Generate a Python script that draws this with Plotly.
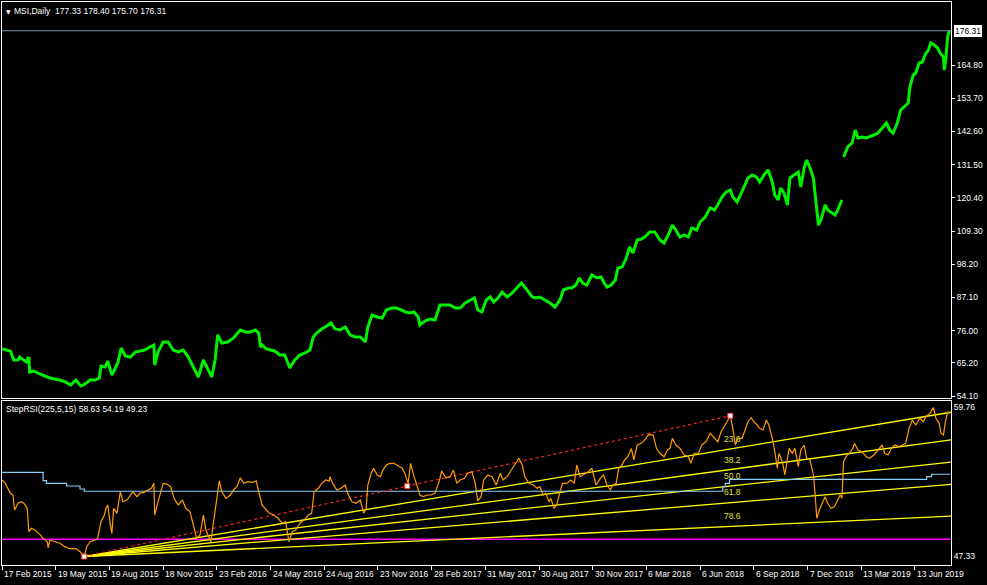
import plotly.graph_objects as go

# ---------------- data ----------------
tick_bars = [0, 64, 128, 192, 256, 320, 384, 448, 512, 576, 640, 704, 768, 832, 896, 960, 1024, 1088]
tick_labels = ["17 Feb 2015", "19 May 2015", "19 Aug 2015", "18 Nov 2015", "23 Feb 2016", "24 May 2016",
               "24 Aug 2016", "23 Nov 2016", "28 Feb 2017", "31 May 2017", "30 Aug 2017", "30 Nov 2017",
               "6 Mar 2018", "6 Jun 2018", "6 Sep 2018", "7 Dec 2018", "13 Mar 2019", "13 Jun 2019"]

price_ticks = [54.10, 65.20, 76.00, 87.10, 98.20, 109.30, 120.40, 131.50, 142.60, 153.70, 164.80]
last_price = 176.31
header_main = "MSI,Daily  177.33 178.40 175.70 176.31"
header_rsi = "StepRSI(225,5,15) 58.63 54.19 49.23"
rsi_ticks = [59.76, 47.33]

price_bar = [0, 10, 14, 19, 21, 29, 32, 33, 38, 45, 54, 57, 63, 69, 76, 82, 88, 94, 99, 105, 111, 116, 118, 123,
             126, 131, 138, 142, 147, 153, 159, 164, 170, 176, 181, 182, 186, 192, 198, 204, 210, 216, 222, 228,
             234, 240, 246, 250, 254, 257, 262, 269, 276, 284, 290, 296, 302, 306, 308, 310, 315, 319, 325, 331,
             337, 343, 349, 355, 361, 367, 371, 375, 381, 387, 392, 397, 403, 409, 415, 421, 427, 433, 436, 441,
             447, 453, 458, 464, 470, 476, 481, 486, 491, 496, 498, 504, 510, 516, 522, 528, 534, 540, 546, 552,
             558, 563, 567, 572, 577, 582, 586, 591, 596, 602, 608, 614, 619, 623, 627, 632, 636, 641, 647, 653,
             659, 665, 669, 675, 679, 684, 688, 692, 697, 703, 709, 714, 717, 721, 726, 731, 734, 739, 744, 748,
             752, 757, 762, 766, 772, 778, 784, 789, 794, 799, 803, 808, 813, 818, 822, 828, 832, 838, 844, 849,
             853, 858, 863, 868, 871, 876, 880, 884, 889, 894, 899, 903, 908, 913, 918, 921, 925, 928, 932, 936,
             939, 944, 949, 952, 956, 959, 963, 967, 970, 973, 976, 981, 984, 989, 993, 996, 1001, 1003, 1008,
             1013, 1017, 1020, 1025, 1030, 1034, 1039, 1044, 1049, 1054, 1058, 1062, 1067, 1071, 1075, 1080,
             1082, 1086, 1089, 1093, 1097, 1100, 1104, 1107, 1111, 1115, 1118, 1122, 1123, 1125, 1127, 1129]
price_val = [69.83, 69.16, 66.15, 66.15, 67.15, 65.48, 67.15, 62.13, 62.47, 61.46, 60.46, 60.12, 59.79, 59.45,
             58.78, 57.78, 59.45, 57.45, 58.12, 59.45, 59.45, 60.12, 64.14, 63.80, 65.81, 61.13, 65.14, 70.16,
             67.48, 67.15, 68.82, 69.16, 69.49, 70.50, 71.16, 64.47, 68.82, 72.17, 72.17, 69.49, 68.82, 69.49,
             67.15, 63.80, 60.46, 66.15, 62.80, 60.46, 66.15, 74.51, 71.83, 72.17, 73.51, 76.18, 75.51, 75.51,
             76.18, 75.18, 70.50, 71.16, 69.83, 69.49, 69.16, 67.82, 67.82, 63.47, 66.15, 67.82, 68.49, 69.49,
             73.84, 75.18, 76.52, 77.52, 78.53, 76.52, 76.18, 77.19, 74.51, 73.84, 73.84, 72.17, 77.19, 81.20,
             80.53, 80.20, 82.88, 83.54, 83.54, 82.88, 82.21, 81.87, 82.21, 80.53, 77.86, 79.20, 79.86, 79.53,
             84.55, 84.55, 84.55, 83.54, 83.54, 85.22, 86.22, 86.89, 82.88, 82.21, 86.22, 87.23, 85.55, 86.89,
             88.90, 87.23, 88.56, 90.57, 91.91, 90.57, 88.90, 87.23, 86.89, 87.23, 86.22, 85.22, 83.88, 86.22,
             89.57, 90.24, 90.24, 91.24, 93.58, 91.91, 91.24, 94.59, 93.58, 93.92, 92.24, 90.57, 91.24, 92.91,
             96.93, 97.26, 100.27, 103.96, 101.95, 106.30, 106.63, 107.30, 108.97, 108.97, 106.30, 105.29,
             107.97, 111.32, 109.64, 107.30, 107.97, 107.30, 110.31, 109.64, 112.32, 113.99, 117.00, 116.34,
             118.01, 120.69, 122.36, 123.03, 120.69, 119.01, 121.35, 124.03, 127.04, 128.05, 127.38, 125.70,
             128.05, 129.72, 125.70, 121.35, 119.68, 123.70, 122.02, 118.01, 127.04, 128.05, 129.05, 124.03,
             130.39, 133.07, 130.39, 127.04, 119.68, 111.32, 112.99, 118.01, 116.34, 115.33, 114.66, 116.34,
             119.68, 134.07, 137.42, 138.75, 143.10, 140.43, 140.76, 140.43, 140.76, 141.43, 142.10, 143.77,
             145.45, 143.10, 142.10, 145.45, 149.80, 150.80, 152.14, 157.49, 161.51, 162.18, 165.52, 165.86,
             168.20, 169.87, 172.21, 171.54, 170.54, 168.87, 167.53, 163.18, 167.53, 174.22, 176.31]
price_gap_after = [1001]

rsi_bar = [0, 4, 10, 13, 15, 19, 23, 26, 30, 32, 35, 39, 44, 49, 54, 55, 57, 63, 69, 75, 81, 86, 89, 93, 98, 101,
           105, 111, 114, 118, 122, 124, 126, 130, 131, 133, 137, 141, 144, 149, 153, 156, 161, 164, 169, 174,
           178, 181, 182, 185, 188, 192, 197, 201, 205, 210, 215, 219, 224, 228, 232, 236, 240, 243, 247, 249,
           251, 255, 259, 262, 267, 272, 276, 280, 284, 288, 293, 298, 303, 306, 310, 315, 319, 324, 329, 334,
           338, 342, 346, 350, 355, 360, 365, 369, 372, 377, 381, 386, 390, 391, 394, 399, 404, 409, 412, 417,
           422, 427, 431, 434, 436, 440, 443, 447, 451, 454, 458, 462, 467, 472, 477, 480, 484, 487, 491, 495,
           498, 502, 507, 511, 516, 521, 524, 529, 534, 538, 542, 546, 551, 555, 560, 564, 567, 571, 574, 579,
           584, 589, 594, 597, 602, 607, 611, 616, 620, 623, 628, 633, 638, 641, 645, 648, 652, 654, 658, 661,
           665, 668, 673, 678, 682, 685, 689, 693, 698, 703, 708, 713, 717, 721, 725, 728, 732, 735, 739, 742,
           746, 750, 753, 757, 762, 766, 771, 776, 780, 784, 789, 793, 796, 799, 803, 808, 813, 818, 821, 825,
           830, 834, 839, 844, 849, 853, 857, 861, 864, 868, 871, 874, 877, 882, 886, 889, 893, 896, 900, 903,
           907, 911, 914, 918, 921, 924, 926, 930, 933, 936, 938, 942, 945, 949, 952, 956, 959, 963, 967, 969,
           971, 974, 977, 981, 984, 988, 992, 995, 999, 1001, 1003, 1007, 1010, 1014, 1016, 1020, 1025, 1030,
           1034, 1039, 1044, 1049, 1052, 1056, 1060, 1064, 1069, 1074, 1077, 1081, 1085, 1089, 1094, 1098,
           1101, 1106, 1110, 1113, 1117, 1119, 1122, 1124, 1127, 1129]
rsi_val = [53.71, 53.43, 52.60, 52.46, 51.21, 51.77, 51.90, 51.77, 51.35, 49.40, 49.68, 49.54, 49.26, 48.85,
           48.56, 48.05, 48.71, 48.56, 48.43, 48.15, 47.96, 48.01, 47.96, 47.73, 47.33, 48.15, 48.56, 48.71,
           48.85, 50.23, 50.79, 51.35, 51.63, 49.54, 49.26, 51.35, 50.93, 52.73, 51.90, 52.04, 52.46, 52.73,
           52.32, 52.60, 52.68, 52.88, 53.02, 53.43, 50.79, 51.63, 52.46, 53.43, 53.35, 53.15, 52.18, 51.63,
           52.04, 51.35, 51.07, 49.82, 48.85, 49.12, 50.79, 49.54, 48.98, 48.56, 49.68, 51.63, 53.63, 52.73,
           52.18, 52.46, 52.88, 53.15, 53.90, 53.43, 53.57, 53.52, 53.63, 52.73, 51.63, 51.21, 50.93, 50.79,
           50.52, 50.10, 50.23, 48.56, 49.40, 49.54, 50.10, 50.37, 50.79, 50.93, 52.73, 53.02, 53.43, 53.71,
           53.63, 53.99, 53.43, 52.88, 53.02, 53.29, 52.60, 51.90, 51.77, 52.04, 50.93, 51.35, 53.29, 54.27,
           54.69, 54.13, 53.99, 54.54, 54.96, 55.10, 55.10, 54.90, 54.69, 54.27, 53.43, 55.10, 53.99, 53.15,
           52.46, 52.32, 52.46, 52.46, 52.60, 53.57, 54.46, 53.90, 53.99, 54.54, 53.43, 53.71, 53.85, 54.27,
           54.40, 53.43, 51.96, 52.32, 53.71, 54.13, 53.99, 53.29, 54.27, 53.71, 53.99, 54.54, 54.96, 55.52,
           54.96, 53.99, 53.43, 53.29, 53.02, 53.15, 52.46, 52.60, 51.90, 52.18, 51.35, 51.63, 52.73, 53.43,
           53.43, 53.71, 53.43, 54.96, 53.99, 54.13, 54.35, 54.69, 53.29, 53.85, 54.13, 53.29, 52.88, 53.29,
           53.43, 54.69, 54.96, 55.38, 55.65, 56.35, 55.38, 56.63, 56.77, 57.05, 57.52, 57.46, 56.35, 55.94,
           55.65, 56.21, 56.35, 57.19, 56.63, 56.35, 55.80, 55.65, 55.10, 55.94, 55.94, 56.63, 56.90, 57.61,
           57.19, 56.90, 57.74, 58.16, 58.57, 59.07, 58.02, 56.63, 57.19, 57.19, 58.02, 58.57, 58.91, 58.57,
           58.30, 58.02, 57.88, 58.71, 58.30, 57.19, 56.07, 54.69, 55.94, 55.24, 54.13, 55.52, 56.35, 55.94,
           56.35, 54.82, 56.21, 56.63, 55.52, 55.38, 54.13, 52.60, 50.52, 51.21, 51.63, 52.32, 51.77, 51.35,
           51.48, 51.90, 52.46, 52.18, 55.24, 55.80, 55.94, 56.35, 56.77, 56.21, 56.07, 55.65, 55.52, 55.80,
           56.21, 56.63, 55.94, 55.80, 56.35, 56.63, 56.49, 56.63, 56.77, 58.02, 58.71, 58.30, 58.86, 58.57,
           58.99, 59.27, 59.76, 58.86, 58.44, 57.61, 57.46, 58.44, 59.41, 59.27]

step_bar = [0, 49, 53, 77, 93, 98, 859, 862, 867, 1102, 1108, 1130]
step_val = [54.35, 53.65, 53.43, 53.21, 52.96, 52.77, 53.15, 53.43, 53.77, 53.99, 54.19, 54.19]

level_value = 48.77
fan_anchor_a = (98, 47.33)
fan_anchor_b = (868, 59.07)
fib_levels = [0.236, 0.382, 0.5, 0.618, 0.786]
fib_names = ["23.6", "38.2", "50.0", "61.8", "78.6"]

assert len(price_bar) == len(price_val)
assert len(rsi_bar) == len(rsi_val)
assert len(step_bar) == len(step_val)

# ---------------- layout geometry ----------------
W, H = 987, 585
PL, PR, PT, PB = 2, 951, 2, 565          # plot area in pixels
X_MIN, X_MAX = 0, 1131
MAIN_RANGE = [53.43, 185.93]
RSI_RANGE = [46.62, 60.30]
MAIN_DOMAIN = [(PB - 398) / (PB - PT), 1.0]
RSI_DOMAIN = [0.0, (PB - 401) / (PB - PT)]
FONT = "Liberation Sans"
TXT = "#ffffff"


def paper_x(px):
    return (px - PL) / (PR - PL)


def paper_y(py):
    return (PB - py) / (PB - PT)


fig = go.Figure()

# price series (with a break at the large gap)
px_list, pv_list = [], []
for b, v in zip(price_bar, price_val):
    px_list.append(b)
    pv_list.append(v)
    if b in price_gap_after:
        px_list.append(None)
        pv_list.append(None)
fig.add_trace(go.Scatter(x=px_list, y=pv_list, mode="lines", connectgaps=False,
                         line=dict(color="#00f000", width=3), xaxis="x", yaxis="y", hoverinfo="skip"))

# RSI panel: magenta level
fig.add_trace(go.Scatter(x=[X_MIN, X_MAX], y=[level_value, level_value], mode="lines",
                         line=dict(color="#ff00ff", width=1.3), xaxis="x2", yaxis="y2", hoverinfo="skip"))

# Fibonacci fan lines
ax, ay = fan_anchor_a
bx, by = fan_anchor_b
fan_at = []
for lv in fib_levels:
    target = by - lv * (by - ay)
    slope = (target - ay) / (bx - ax)
    fan_at.append((slope, target))
    fig.add_trace(go.Scatter(x=[ax, X_MAX], y=[ay, ay + slope * (X_MAX - ax)], mode="lines",
                             line=dict(color="#ffff00", width=1.3), xaxis="x2", yaxis="y2", hoverinfo="skip"))

# light-blue step line
fig.add_trace(go.Scatter(x=step_bar, y=step_val, mode="lines", line_shape="hv",
                         line=dict(color="#87cefa", width=1.2), xaxis="x2", yaxis="y2", hoverinfo="skip"))

# red dashed trend line between anchors
fig.add_trace(go.Scatter(x=[ax, bx], y=[ay, by], mode="lines",
                         line=dict(color="#ff2020", width=1.2, dash="3px,3px"), xaxis="x2", yaxis="y2",
                         hoverinfo="skip"))

# StepRSI orange line
fig.add_trace(go.Scatter(x=rsi_bar, y=rsi_val, mode="lines",
                         line=dict(color="#ff9c00", width=1.2), xaxis="x2", yaxis="y2", hoverinfo="skip"))

# anchor squares
fig.add_trace(go.Scatter(x=[ax, (ax + bx) / 2, bx], y=[ay, (ay + by) / 2, by], mode="markers",
                         marker=dict(symbol="square", size=5, color="#ffffff", line=dict(color="#ff3030", width=1)),
                         xaxis="x2", yaxis="y2", hoverinfo="skip"))

annotations = []
# fib labels
lbl_bar = 858
for (slope, target), name in zip(fan_at, fib_names):
    annotations.append(dict(x=lbl_bar, y=ay + slope * (lbl_bar - ax), xref="x2", yref="y2", text=name,
                            showarrow=False, xanchor="left", yanchor="middle", yshift=11,
                            font=dict(family=FONT, size=8.5, color="#e0e040")))

# x-axis date labels (left aligned at tick)
for b, t in zip(tick_bars, tick_labels):
    annotations.append(dict(x=b, y=0, xref="x2", yref="paper", text=t, showarrow=False,
                            xanchor="left", yanchor="top", yshift=-2, xshift=0,
                            font=dict(family=FONT, size=8.5, color=TXT)))

# headers
annotations.append(dict(x=paper_x(4), y=paper_y(11), xref="paper", yref="paper", text="▼", showarrow=False,
                        xanchor="left", yanchor="middle", font=dict(family="DejaVu Sans", size=6, color=TXT)))
annotations.append(dict(x=paper_x(12), y=paper_y(11), xref="paper", yref="paper", text=header_main,
                        showarrow=False, xanchor="left", yanchor="middle",
                        font=dict(family=FONT, size=8.5, color=TXT)))
annotations.append(dict(x=paper_x(4), y=paper_y(409), xref="paper", yref="paper", text=header_rsi,
                        showarrow=False, xanchor="left", yanchor="middle",
                        font=dict(family=FONT, size=8.5, color=TXT)))

# last price label box
annotations.append(dict(x=1, y=last_price, xref="paper", yref="y", text=f"{last_price:.2f}", showarrow=False,
                        xanchor="left", yanchor="middle", xshift=3, bgcolor="#ffffff",
                        bordercolor="#ffffff", borderpad=0,
                        font=dict(family=FONT, size=8.5, color="#000000")))

shapes = [dict(type="line", xref="paper", yref="y", x0=0, x1=1, y0=last_price, y1=last_price,
               line=dict(color="#8090a8", width=1))]

axis_common = dict(showgrid=False, zeroline=False, showline=True, mirror=True, linecolor="#ffffff",
                   linewidth=1, automargin=False)

fig.update_layout(
    width=W, height=H,
    margin=dict(l=PL, r=W - PR, t=PT, b=H - PB, pad=0, autoexpand=False),
    paper_bgcolor="#000000", plot_bgcolor="#000000",
    showlegend=False,
    xaxis=dict(domain=[0, 1], range=[X_MIN, X_MAX], anchor="y", showticklabels=False, ticks="",
               **axis_common),
    yaxis=dict(domain=MAIN_DOMAIN, range=MAIN_RANGE, side="right", anchor="x",
               tickvals=price_ticks, ticktext=[f"{v:.2f}" for v in price_ticks],
               ticks="outside", ticklen=3, tickcolor="#ffffff",
               tickfont=dict(family=FONT, size=8.5, color=TXT), **axis_common),
    xaxis2=dict(domain=[0, 1], range=[X_MIN, X_MAX], anchor="y2", tickvals=tick_bars,
                showticklabels=False, ticks="outside", ticklen=4, tickcolor="#ffffff", **axis_common),
    yaxis2=dict(domain=RSI_DOMAIN, range=RSI_RANGE, side="right", anchor="x2",
                tickvals=rsi_ticks, ticktext=[f"{v:.2f}" for v in rsi_ticks],
                ticks="", tickfont=dict(family=FONT, size=8.5, color=TXT), **axis_common),
    annotations=annotations,
    shapes=shapes,
)

fig.write_html("out.html", config={"displayModeBar": False},
               post_script="document.body.style.margin='0px';document.body.style.overflow='hidden';"
                           "document.body.style.background='#000000';")
